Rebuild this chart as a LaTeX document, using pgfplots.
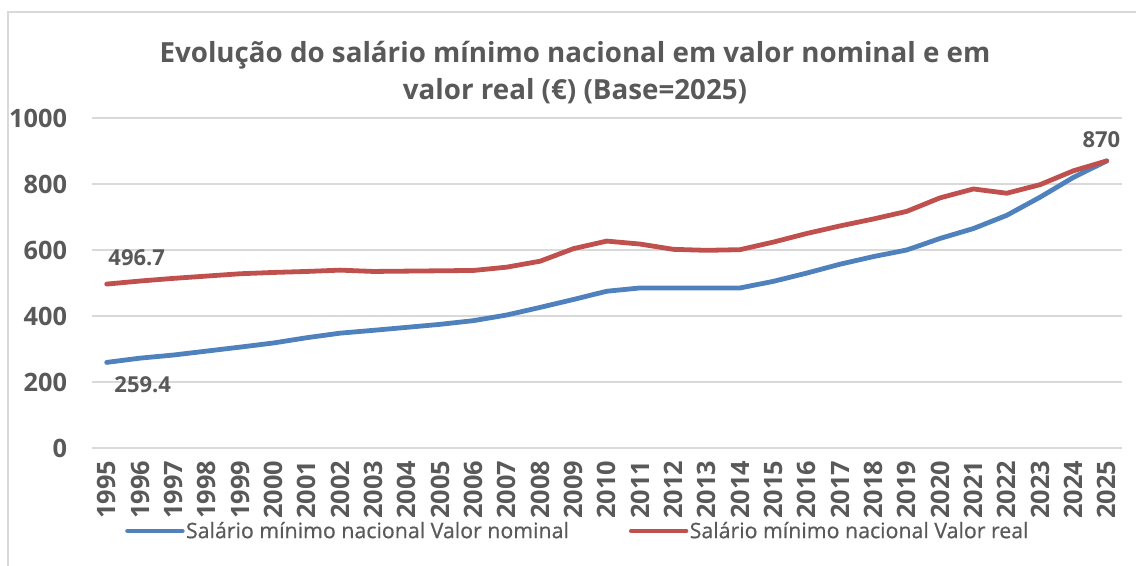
\documentclass[border=0pt]{standalone}
\usepackage{fontspec}
\setmainfont{Open Sans}
\usepackage{pgfplots}
\pgfplotsset{compat=1.18}
\definecolor{txt}{HTML}{595959}
\definecolor{gridc}{HTML}{D9D9D9}
\definecolor{nomblue}{HTML}{4F81BD}
\definecolor{realred}{HTML}{C0504D}
\pgfplotstableread{
year nominal real
1995 259.4 496.7
1996 272.3 506
1997 281.7 514
1998 293.7 521
1999 305.7 528
2000 318.2 532
2001 334.2 535
2002 348.0 539
2003 356.6 535
2004 365.6 536
2005 374.7 537
2006 385.9 538
2007 403 548
2008 426 566
2009 450 604
2010 475 627
2011 485 618
2012 485 602
2013 485 599
2014 485 601
2015 505 624
2016 530 650
2017 557 673
2018 580 694
2019 600 717
2020 635 758
2021 665 785
2022 705 772
2023 760 798
2024 820 840
2025 870 870
}\data
\begin{document}
\begin{tikzpicture}[x=0.75pt,y=0.75pt]
\useasboundingbox (0,0) rectangle (1136,565);
\draw[gridc, line width=1.2pt] (8,-5) -- (8,553) -- (1140,553);
\node[font=\bfseries\fontsize{20.8}{27.8}\selectfont, text=txt, align=center] at (575,492) {Evolução do salário mínimo nacional em valor nominal e em\\valor real (€) (Base=2025)};
\begin{axis}[
  at={(68.78pt,87.75pt)}, anchor=south west,
  scale only axis, width=772.5pt, height=247.5pt,
  xmin=1994.55, xmax=2025.45, ymin=0, ymax=1000,
  ytick={0,200,...,1000}, xtick={1995,1996,...,2025},
  /pgf/number format/.cd, 1000 sep={}, assume math mode=true, /pgfplots/.cd,
  ymajorgrids, grid style={gridc, line width=1.1pt},
  axis line style={draw=none}, major tick style={draw=none},
  tick label style={font=\bfseries\fontsize{19}{21}\selectfont, text=txt},
  xticklabel style={rotate=90, anchor=east},
  yticklabel style={xshift=-15pt},
  xticklabel shift=6pt,
  legend columns=2,
  legend style={draw=none, fill=none, at={(0.4717,-0.2515)}, anchor=center,
    font=\fontsize{16}{18}\selectfont\addfontfeatures{FakeBold=0.6}, text=txt,
    nodes={inner xsep=1pt},
    /tikz/every even column/.append style={column sep=44pt},
    inner sep=0pt, cells={anchor=west}},
  legend image code/.code={\draw[#1] (0pt,0pt) -- (41pt,0pt);},
  every axis plot/.append style={line width=3.6pt, line join=round, line cap=round},
  clip=false,
]
\addplot[nomblue] table[x=year, y=nominal] {\data};
\addlegendentry{Salário mínimo nacional Valor nominal}
\addplot[realred] table[x=year, y=real] {\data};
\addlegendentry{Salário mínimo nacional Valor real}
\node[font=\bfseries\fontsize{16.5}{18}\selectfont, text=txt] at (axis cs:1995,496.7) [xshift=22.5pt, yshift=20pt] {496.7};
\node[font=\bfseries\fontsize{16.5}{18}\selectfont, text=txt] at (axis cs:1995,259.4) [xshift=27pt, yshift=-17pt] {259.4};
\node[font=\bfseries\fontsize{16.5}{18}\selectfont, text=txt] at (axis cs:2025,870) [xshift=-4pt, yshift=16pt] {870};
\end{axis}
\end{tikzpicture}
\end{document}
